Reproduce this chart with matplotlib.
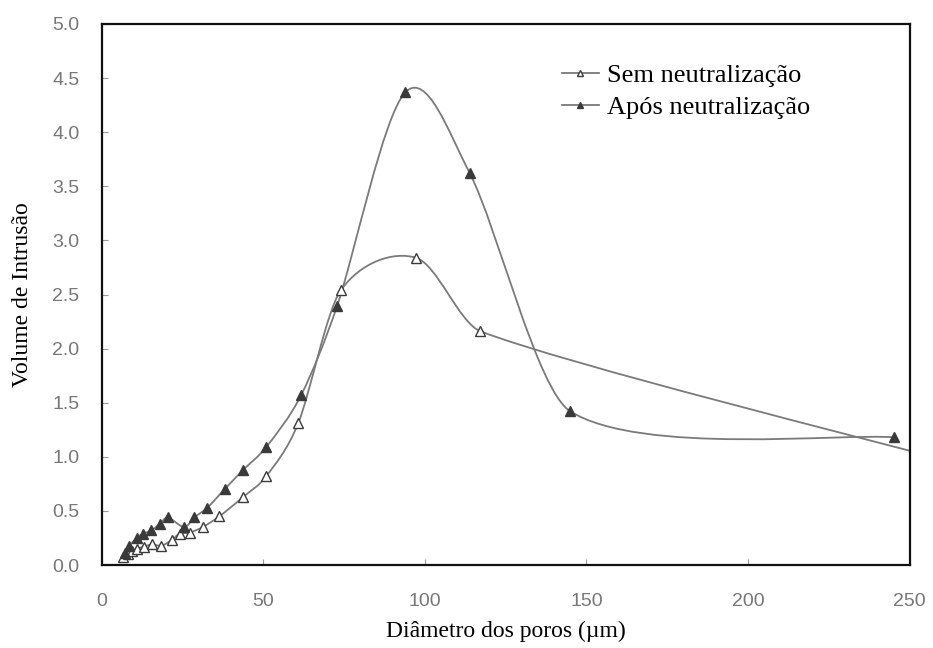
#!/usr/bin/env python3
import matplotlib
matplotlib.use("Agg")
import matplotlib.pyplot as plt
import numpy as np
from matplotlib.path import Path
from matplotlib.patches import PathPatch
from matplotlib.lines import Line2D

# pore diameter (um) vs intrusion volume
d_sem = [6.5, 8.0, 9.5, 11.0, 13.0, 15.5, 18.5, 21.6, 24.1, 27.2, 31.2, 36.4,
         43.8, 50.9, 60.8, 74.0, 97.2, 117.2, 262.0]
v_sem = [0.07, 0.10, 0.13, 0.15, 0.17, 0.19, 0.18, 0.23, 0.29, 0.30, 0.35, 0.45,
         0.63, 0.82, 1.31, 2.54, 2.84, 2.16, 0.96]

d_apos = [7.1, 8.6, 10.8, 12.7, 15.4, 17.9, 20.4, 25.6, 28.7, 32.7, 38.0, 43.8,
          50.9, 61.7, 72.8, 94.0, 113.9, 145.0, 245.3]
v_apos = [0.11, 0.18, 0.25, 0.29, 0.32, 0.38, 0.44, 0.35, 0.44, 0.53, 0.70, 0.88,
          1.09, 1.57, 2.39, 4.37, 3.62, 1.42, 1.18]

line_col = "#7a7a7a"
edge_col = "#3a3a3a"


def limit(t, seg_dx):
    # keep a control handle from reaching past its own segment
    lim = seg_dx / 3.0
    if abs(t[0]) > lim:
        t = t * lim / abs(t[0])
    return t


def smooth_path(x, y):
    # cubic Bezier through the points, spreadsheet-style smoothing
    p = np.column_stack([x, y])
    n = len(p)
    verts = [p[0]]
    codes = [Path.MOVETO]
    for i in range(n - 1):
        p0 = p[i - 1] if i > 0 else p[i]
        p1 = p[i]
        p2 = p[i + 1]
        p3 = p[i + 2] if i + 2 < n else p[i + 1]
        seg = p2[0] - p1[0]
        c1 = p1 + limit((p2 - p0) / 6.0, seg)
        c2 = p2 - limit((p3 - p1) / 6.0, seg)
        verts += [c1, c2, p2]
        codes += [Path.CURVE4] * 3
    return Path(verts, codes)


fig = plt.figure(figsize=(9.33, 6.48), dpi=100)
ax = fig.add_axes([0.109, 0.128, 0.866, 0.835])

for dx, vy, face in [(d_sem, v_sem, "white"), (d_apos, v_apos, edge_col)]:
    patch = PathPatch(smooth_path(dx, vy), facecolor="none", edgecolor=line_col,
                      lw=1.3, zorder=2)
    ax.add_patch(patch)
    ax.plot(dx, vy, ls="none", marker="^", ms=7, mfc=face, mec=edge_col,
            mew=1.0, zorder=3)

ax.set_xlim(0, 250)
ax.set_ylim(0, 5)
ax.set_xticks(np.arange(0, 251, 50))
ax.set_yticks(np.arange(0, 5.01, 0.5))
ax.set_yticklabels([f"{v:.1f}" for v in np.arange(0, 5.01, 0.5)])
ax.tick_params(direction="in", length=4, width=0.8, color="#999999",
               labelcolor="#777777", labelsize=14)
ax.tick_params(axis="x", pad=20)
ax.tick_params(axis="y", pad=16)
for lab in ax.get_xticklabels() + ax.get_yticklabels():
    lab.set_family("Liberation Sans")
for s in ax.spines.values():
    s.set_linewidth(1.6)
    s.set_color("#111111")

ax.set_xlabel("Diâmetro dos poros (µm)", family="Liberation Serif",
              fontsize=17, labelpad=8)
ax.set_ylabel("Volume de Intrusão", family="Liberation Serif",
              fontsize=17, labelpad=14)

handles = [
    Line2D([], [], color=line_col, lw=1.3, marker="^", ms=5,
           mfc="white", mec=edge_col),
    Line2D([], [], color=line_col, lw=1.3, marker="^", ms=5,
           mfc=edge_col, mec=edge_col),
]
ax.legend(handles, ["Sem neutralização", "Após neutralização"],
          loc="upper left", bbox_to_anchor=(0.54, 0.97), frameon=False,
          prop={"family": "Liberation Serif", "size": 19},
          handlelength=1.4, handletextpad=0.3, labelspacing=0.3)

plt.savefig("out.png", dpi=100)
